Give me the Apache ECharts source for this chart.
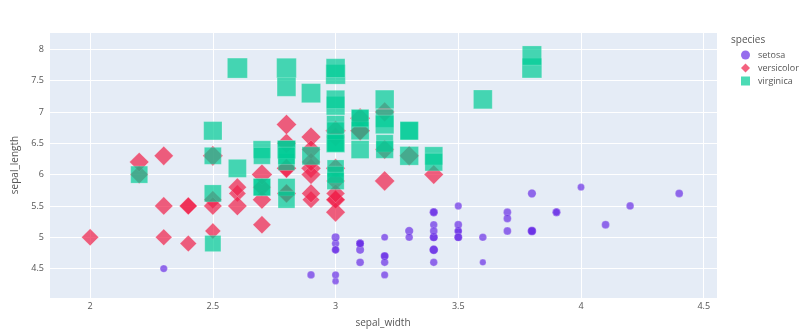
<!DOCTYPE html>
<html>
<head>
<meta charset="utf-8">
<script src="https://cdn.jsdelivr.net/npm/echarts@6/dist/echarts.min.js"></script>
<style>
html,body{margin:0;padding:0;background:#fff;}
#c{width:800px;height:334px;}
</style>
</head>
<body>
<div id="c"></div>
<script>
// Iris data: [sepal_width, sepal_length, petal_length]
const species = ['setosa', 'versicolor', 'virginica'];
const setosa = [
[3.5,5.1,1.4],[3.0,4.9,1.4],[3.2,4.7,1.3],[3.1,4.6,1.5],[3.6,5.0,1.4],[3.9,5.4,1.7],[3.4,4.6,1.4],[3.4,5.0,1.5],[2.9,4.4,1.4],[3.1,4.9,1.5],
[3.7,5.4,1.5],[3.4,4.8,1.6],[3.0,4.8,1.4],[3.0,4.3,1.1],[4.0,5.8,1.2],[4.4,5.7,1.5],[3.9,5.4,1.3],[3.5,5.1,1.4],[3.8,5.7,1.7],[3.8,5.1,1.5],
[3.4,5.4,1.7],[3.7,5.1,1.5],[3.6,4.6,1.0],[3.3,5.1,1.7],[3.4,4.8,1.9],[3.0,5.0,1.6],[3.4,5.0,1.6],[3.5,5.2,1.5],[3.4,5.2,1.4],[3.2,4.7,1.6],
[3.1,4.8,1.6],[3.4,5.4,1.5],[4.1,5.2,1.5],[4.2,5.5,1.4],[3.1,4.9,1.5],[3.2,5.0,1.2],[3.5,5.5,1.3],[3.1,4.9,1.5],[3.0,4.4,1.3],[3.4,5.1,1.5],
[3.5,5.0,1.3],[2.3,4.5,1.3],[3.2,4.4,1.3],[3.5,5.0,1.6],[3.8,5.1,1.9],[3.0,4.8,1.4],[3.8,5.1,1.6],[3.2,4.6,1.4],[3.7,5.3,1.5],[3.3,5.0,1.4]
];
const versicolor = [
[3.2,7.0,4.7],[3.2,6.4,4.5],[3.1,6.9,4.9],[2.3,5.5,4.0],[2.8,6.5,4.6],[2.8,5.7,4.5],[3.3,6.3,4.7],[2.4,4.9,3.3],[2.9,6.6,4.6],[2.7,5.2,3.9],
[2.0,5.0,3.5],[3.0,5.9,4.2],[2.2,6.0,4.0],[2.9,6.1,4.7],[2.9,5.6,3.6],[3.1,6.7,4.4],[3.0,5.6,4.5],[2.7,5.8,4.1],[2.2,6.2,4.5],[2.5,5.6,3.9],
[3.2,5.9,4.8],[2.8,6.1,4.0],[2.5,6.3,4.9],[2.8,6.1,4.7],[2.9,6.4,4.3],[3.0,6.6,4.4],[2.8,6.8,4.8],[3.0,6.7,5.0],[2.9,6.0,4.5],[2.6,5.7,3.5],
[2.4,5.5,3.8],[2.4,5.5,3.7],[2.7,5.8,3.9],[2.7,6.0,5.1],[3.0,5.4,4.5],[3.4,6.0,4.5],[3.1,6.7,4.7],[2.3,6.3,4.4],[3.0,5.6,4.1],[2.5,5.5,4.0],
[2.6,5.5,4.4],[3.0,6.1,4.6],[2.6,5.8,4.0],[2.3,5.0,3.3],[2.7,5.6,4.2],[3.0,5.7,4.2],[2.9,5.7,4.2],[2.9,6.2,4.3],[2.5,5.1,3.0],[2.8,5.7,4.1]
];
const virginica = [
[3.3,6.3,6.0],[2.7,5.8,5.1],[3.0,7.1,5.9],[2.9,6.3,5.6],[3.0,6.5,5.8],[3.0,7.6,6.6],[2.5,4.9,4.5],[2.9,7.3,6.3],[2.5,6.7,5.8],[3.6,7.2,6.1],
[3.2,6.5,5.1],[2.7,6.4,5.3],[3.0,6.8,5.5],[2.5,5.7,5.0],[2.8,5.8,5.1],[3.2,6.4,5.3],[3.0,6.5,5.5],[3.8,7.7,6.7],[2.6,7.7,6.9],[2.2,6.0,5.0],
[3.2,6.9,5.7],[2.8,5.6,4.9],[2.8,7.7,6.7],[2.7,6.3,4.9],[3.3,6.7,5.7],[3.2,7.2,6.0],[2.8,6.2,4.8],[3.0,6.1,4.9],[2.8,6.4,5.6],[3.0,7.2,5.8],
[2.8,7.4,6.1],[3.8,7.9,6.4],[2.8,6.4,5.6],[2.8,6.3,5.1],[2.6,6.1,5.6],[3.0,7.7,6.1],[3.4,6.3,5.6],[3.1,6.4,5.5],[3.0,6.0,4.8],[3.1,6.9,5.4],
[3.1,6.7,5.6],[3.1,6.9,5.1],[2.7,5.8,5.1],[3.2,6.8,5.9],[3.3,6.7,5.7],[3.0,6.7,5.2],[2.5,6.3,5.0],[3.0,6.5,5.2],[3.4,6.2,5.4],[3.0,5.9,5.1]
];
const xLabel = 'sepal_width';
const yLabel = 'sepal_length';
const legendTitle = 'species';

const colors = ['#6a2fe6', '#ef1f48', '#00cc96'];
const symbols = ['circle', 'diamond', 'rect'];
const legendIcons = ['circle', 'diamond', 'path://M0,0H10V10H0Z'];
const sizeScale = [0.85, 1.2, 1.0];
const allData = [setosa, versicolor, virginica];
const maxPL = Math.max(...allData.flat().map(d => d[2]));
const baseSize = v => 20 * Math.sqrt(v / maxPL);

const series = species.map((name, i) => ({
  name: name,
  type: 'scatter',
  data: allData[i],
  symbol: symbols[i],
  symbolSize: v => baseSize(v[2]) * sizeScale[i],
  itemStyle: { color: colors[i], opacity: 0.7, borderColor: 'rgba(255,255,255,0.6)', borderWidth: 0.5 },
  emphasis: { disabled: true }
}));

const chart = echarts.init(document.getElementById('c'), null, { renderer: 'canvas' });
chart.setOption({
  animation: false,
  backgroundColor: '#ffffff',
  textStyle: { fontFamily: '"Open Sans", sans-serif' },
  title: {
    text: legendTitle, left: 731, top: 35.5, padding: 0,
    textStyle: { fontSize: 10, fontWeight: 'normal', color: '#555', fontFamily: '"Open Sans", sans-serif' }
  },
  legend: {
    orient: 'vertical', left: 741, top: 50.5, padding: 0,
    itemWidth: 9, itemHeight: 9, itemGap: 4,
    textStyle: { fontSize: 9, color: '#555', fontFamily: '"Open Sans", sans-serif', padding: [0, 0, 0, 3] },
    data: species.map((s, i) => ({ name: s, icon: legendIcons[i], itemStyle: { color: colors[i], opacity: 0.7, borderWidth: 0 } }))
  },
  grid: { left: 49, right: 83, top: 32, bottom: 36, containLabel: false, backgroundColor: '#e5ecf6', show: true, borderWidth: 0 },
  xAxis: {
    type: 'value', min: 1.8325, max: 4.554, minInterval: 0.5, maxInterval: 0.5,
    name: xLabel, nameLocation: 'middle', nameGap: 20,
    nameTextStyle: { fontSize: 10, color: '#555' },
    axisLine: { show: false }, axisTick: { show: false },
    axisLabel: { fontSize: 9, color: '#555', margin: 4, showMinLabel: false, showMaxLabel: false },
    splitLine: { show: true, lineStyle: { color: '#ffffff', width: 1 } }
  },
  yAxis: {
    type: 'value', min: 4.031, max: 8.276, minInterval: 0.5, maxInterval: 0.5,
    name: yLabel, nameLocation: 'middle', nameGap: 25,
    nameTextStyle: { fontSize: 10, color: '#555' },
    axisLine: { show: false }, axisTick: { show: false },
    axisLabel: { fontSize: 9, color: '#555', margin: 5, showMinLabel: false, showMaxLabel: false },
    splitLine: { show: true, lineStyle: { color: '#ffffff', width: 1 } }
  },
  series: series
});
</script>
</body>
</html>
